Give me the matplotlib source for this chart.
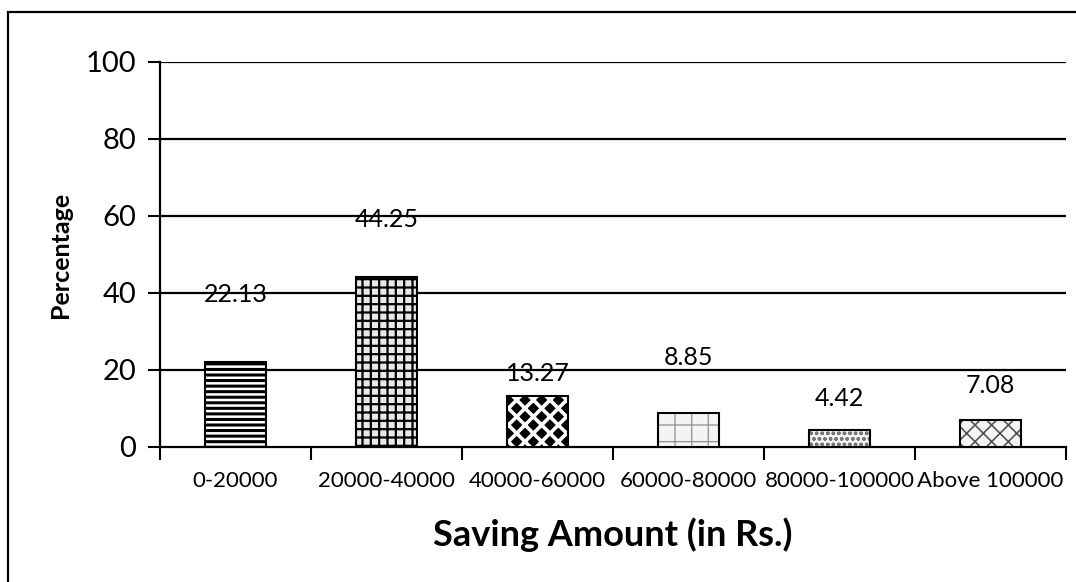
import matplotlib
matplotlib.use('Agg')
import matplotlib.pyplot as plt
from matplotlib.patches import Rectangle
import numpy as np

plt.rcParams['font.family'] = ['Lato', 'DejaVu Sans']

categories = ['0-20000', '20000-40000', '40000-60000', '60000-80000', '80000-100000', 'Above 100000']
percentages = [22.13, 44.25, 13.27, 8.85, 4.42, 7.08]
# how far above each bar its value label sits (percentage points)
label_offsets = [17.4, 14.8, 5.9, 14.5, 8.3, 9.0]

# (face, hatch colour, hatch, hatch width) per bar
bar_styles = [
    ('white', 'black', '---', 2.2),
    ('#e8e8e8', 'black', '++', 1.6),
    ('black', 'white', 'xx', 2.6),
    ('#f4f4f4', '#999999', '+', 1.0),
    ('#f4f4f4', '#777777', 'ooo', 1.0),
    ('#f4f4f4', '#555555', 'xx', 1.2),
]

fig = plt.figure(figsize=(10.76, 5.82), dpi=100)
ax = fig.add_axes([0.1487, 0.232, 0.8420, 0.6615])

x = np.arange(len(categories))
for i, (val, (face, hcol, hatch, hlw)) in enumerate(zip(percentages, bar_styles)):
    b = ax.bar(x[i], val, width=0.41, color=face, edgecolor=hcol, hatch=hatch, linewidth=0, zorder=3)
    for p in b:
        if hasattr(p, 'set_hatch_linewidth'):
            p.set_hatch_linewidth(hlw)
    ax.bar(x[i], val, width=0.41, fill=False, edgecolor='black', linewidth=1.5, zorder=4)
    ax.text(x[i], val + label_offsets[i], f'{val:.2f}', ha='center', va='center', fontsize=18, zorder=5)

ax.set_xlim(-0.5, len(categories) - 0.5)
ax.set_ylim(0, 100)
ax.set_yticks(range(0, 101, 20))
ax.tick_params(axis='y', labelsize=21, length=9, width=1.5, direction='out', pad=8)
for yv in range(20, 101, 20):
    ax.axhline(yv, color='black', linewidth=1.6, zorder=1)

ax.set_xticks(np.arange(-0.5, len(categories), 1.0))
ax.set_xticklabels([])
ax.tick_params(axis='x', length=9, width=1.5, direction='out')
ax.set_xticks(x, minor=True)
ax.set_xticklabels(categories, minor=True, fontsize=16)
ax.tick_params(axis='x', which='minor', length=0, pad=17)

for side in ('top', 'right'):
    ax.spines[side].set_visible(False)
ax.spines['left'].set_linewidth(1.6)
ax.spines['bottom'].set_linewidth(1.6)

ax.set_ylabel('Percentage', fontsize=18, fontweight='bold', labelpad=10)
ax.set_xlabel('Saving Amount (in Rs.)', fontsize=26, fontweight='bold', labelpad=19)

# chart area frame, runs off the right and bottom edges
fig.patches.append(Rectangle((8 / 1076, -0.05), 1.05, 0.979 + 0.05, transform=fig.transFigure,
                             fill=False, edgecolor='black', linewidth=1.6))

fig.savefig('out.png', dpi=100)
